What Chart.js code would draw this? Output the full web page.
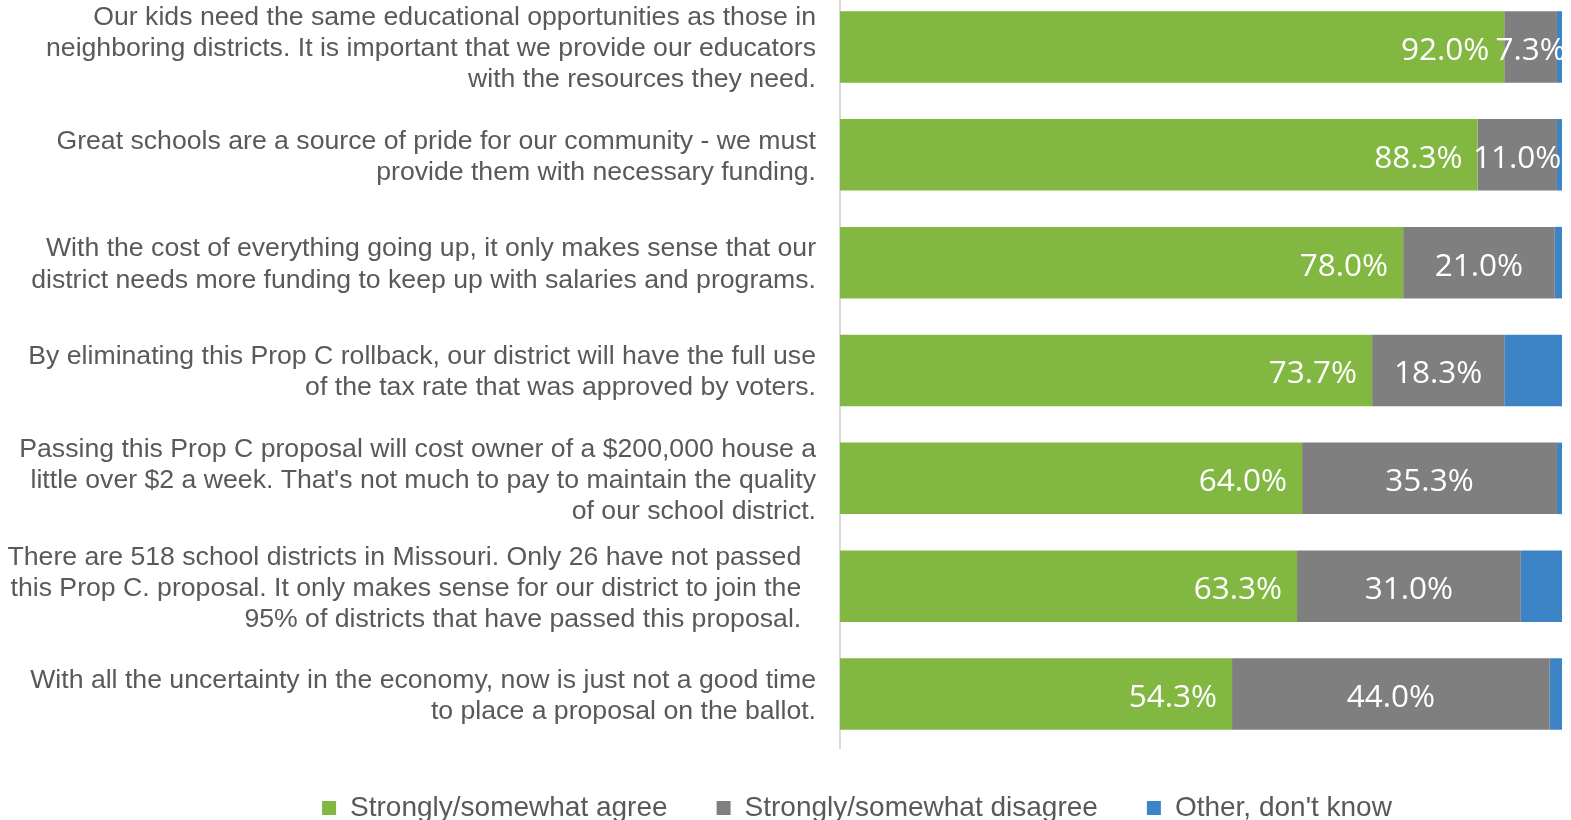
<!DOCTYPE html>
<html>
<head>
<meta charset="utf-8">
<script src="https://cdn.jsdelivr.net/npm/chart.js@4.4.1/dist/chart.umd.min.js"></script>
<style>
  html, body { margin: 0; padding: 0; background: #fff; overflow: hidden; }
  #wrap { position: absolute; left: 0; top: -7px; width: 1571px; height: 842px; }
</style>
</head>
<body>
<div id="wrap"><canvas id="chartCanvas"></canvas></div>
<script>
var statements = [
  ["Our kids need the same educational opportunities as those in",
   "neighboring districts. It is important that we provide our educators",
   "with the resources they need."],
  ["Great schools are a source of pride for our community - we must",
   "provide them with necessary funding."],
  ["With the cost of everything going up, it only makes sense that our",
   "district needs more funding to keep up with salaries and programs."],
  ["By eliminating this Prop C rollback, our district will have the full use",
   "of the tax rate that was approved by voters."],
  ["Passing this Prop C proposal will cost owner of a $200,000 house a",
   "little over $2 a week. That's not much to pay to maintain the quality",
   "of our school district."],
  ["There are 518 school districts in Missouri. Only 26 have not passed  ",
   "this Prop C. proposal. It only makes sense for our district to join the  ",
   "95% of districts that have passed this proposal.  "],
  ["With all the uncertainty in the economy, now is just not a good time",
   "to place a proposal on the ballot."]
];
var agree    = [92.0, 88.3, 78.0, 73.7, 64.0, 63.3, 54.3];
var disagree = [7.3, 11.0, 21.0, 18.3, 35.3, 31.0, 44.0];
var other    = [0.7, 0.7, 1.0, 8.0, 0.7, 5.7, 1.7];
var seriesNames = ["Strongly/somewhat agree", "Strongly/somewhat disagree", "Other, don't know"];

// white value labels inside the agree / disagree segments
var barValueLabels = {
  id: 'barValueLabels',
  afterDatasetsDraw: function(chart) {
    var ctx = chart.ctx;
    var area = chart.chartArea;
    ctx.save();
    ctx.beginPath();
    ctx.rect(area.left, area.top, area.right - area.left, area.bottom - area.top);
    ctx.clip();
    ctx.font = '31.5px "Open Sans"';
    ctx.fillStyle = '#ffffff';
    ctx.textBaseline = 'middle';
    [0, 1].forEach(function(di) {
      var meta = chart.getDatasetMeta(di);
      var vals = chart.data.datasets[di].data;
      meta.data.forEach(function(bar, i) {
        var txt = vals[i].toFixed(1) + '%';
        if (di === 0) {
          ctx.textAlign = 'right';
          ctx.fillText(txt, bar.x - 15, bar.y + 4);
        } else {
          ctx.textAlign = 'center';
          ctx.fillText(txt, (bar.x + bar.base) / 2, bar.y + 4);
        }
      });
    });
    ctx.restore();
  }
};

// the legend sits a bit right of the canvas centre in the original
var legendShift = {
  id: 'legendShift',
  afterLayout: function(chart) {
    chart.legend.left += 152;
    chart.legend.top -= 3;
  }
};

var ctx = document.getElementById('chartCanvas').getContext('2d');
var myChart = new Chart(ctx, {
  type: 'bar',
  data: {
    labels: statements,
    datasets: [
      { label: seriesNames[0], data: agree, backgroundColor: '#82B742' },
      { label: seriesNames[1], data: disagree, backgroundColor: '#7F7F7F' },
      { label: seriesNames[2], data: other, backgroundColor: '#3D84C6' }
    ]
  },
  options: {
    indexAxis: 'y',
    responsive: true,
    maintainAspectRatio: false,
    animation: false,
    categoryPercentage: 1,
    barPercentage: 0.663,
    layout: { padding: { left: 0, right: 9, top: 0, bottom: 0 } },
    scales: {
      x: { stacked: true, min: 0, max: 100, display: false },
      y: {
        stacked: true,
        grid: { display: false, drawTicks: false },
        border: { display: true, color: '#D9D9D9', width: 2 },
        ticks: {
          color: '#595959',
          padding: 24,
          labelOffset: 2,
          font: { family: '"Liberation Sans", Arial, sans-serif', size: 26.65, lineHeight: 1.165 }
        },
        afterFit: function(scale) {
          scale.width = 840;
          scale.paddingTop = 0;
          scale.paddingBottom = 0;
        }
      }
    },
    plugins: {
      legend: {
        position: 'bottom',
        labels: {
          color: '#595959',
          boxWidth: 14,
          boxHeight: 14,
          padding: 49,
          font: { family: '"Liberation Sans", Arial, sans-serif', size: 28 }
        }
      },
      tooltip: { enabled: false }
    }
  },
  plugins: [barValueLabels, legendShift]
});
</script>
</body>
</html>
